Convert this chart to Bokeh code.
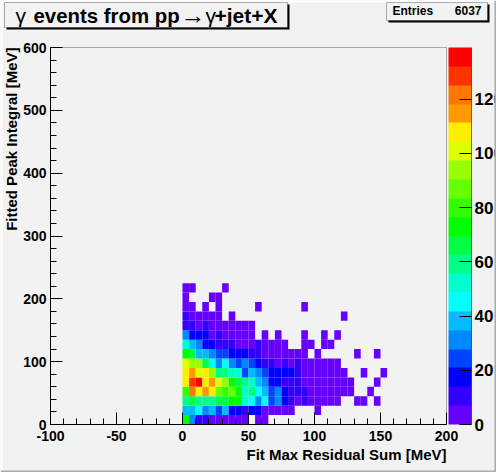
from bokeh.plotting import figure
from bokeh.models import (ColumnDataSource, LinearColorMapper, ColorBar, FixedTicker,
                          SingleIntervalTicker, Label, BoxAnnotation, Range1d, LinearAxis)
from bokeh.embed import file_html
from bokeh.resources import INLINE

palette = ["#6600ff", "#3300ff", "#0000ff", "#0044ff", "#0088ff", "#00bbff", "#00ffff",
           "#00ffcc", "#00ff88", "#00ff44", "#00ff00", "#33ff00", "#66ff00", "#99ff00",
           "#ddff00", "#ffee00", "#ff9900", "#ff7700", "#ff3300", "#ff0000"]

x_bin_width = 5
y_bin_width = 15
z_max = 139

# counts per bin; each list starts at x = 0, one row per y bin (row 0: 0-15 MeV)
row00 = [73, 31, 10, 10, 2, 2, 2, 2, 2, 2, 0, 2, 2]
row01 = [38, 38, 45, 31, 38, 24, 38, 17, 17, 10, 17, 17, 2, 2, 2, 2, 2, 0, 0, 0, 2]
row02 = [59, 66, 59, 59, 59, 66, 66, 73, 73, 52, 45, 31, 45, 24, 31, 17, 10, 2, 10, 2, 2, 2, 2, 2, 0, 0, 2, 2, 0, 2]
row03 = [80, 122, 108, 115, 108, 87, 80, 87, 73, 52, 59, 45, 38, 24, 31, 17, 10, 10, 10, 2, 2, 2, 2, 2, 2, 2, 0, 0, 2]
row04 = [108, 129, 136, 108, 115, 101, 94, 73, 66, 59, 52, 38, 31, 17, 17, 10, 10, 10, 2, 2, 2, 2, 2, 2, 2, 2, 0, 0, 0, 2]
row05 = [108, 115, 101, 108, 94, 59, 59, 52, 52, 24, 38, 31, 24, 17, 17, 17, 17, 10, 2, 2, 2, 2, 2, 2, 2, 0, 0, 2, 0, 0, 2]
row06 = [101, 94, 94, 66, 45, 31, 45, 31, 24, 31, 24, 17, 10, 10, 2, 10, 2, 10, 2, 2, 2, 2, 2, 2]
row07 = [73, 66, 38, 38, 31, 24, 24, 17, 17, 17, 10, 10, 2, 2, 2, 2, 2, 2, 2, 0, 2, 0, 0, 0, 0, 0, 2, 0, 0, 2]
row08 = [52, 38, 31, 17, 17, 10, 10, 10, 2, 2, 2, 10, 2, 2, 2, 2, 0, 0, 2, 2, 0, 2, 2]
row09 = [31, 17, 17, 17, 2, 10, 2, 2, 2, 2, 2, 0, 2, 0, 2, 0, 0, 0, 2, 0, 0, 2, 0, 2]
row10 = [10, 10, 2, 10, 2, 2, 2, 2, 2, 2, 2]
row11 = [10, 2, 2, 2, 2, 2, 0, 2, 0, 0, 0, 0, 0, 0, 0, 0, 0, 0, 0, 0, 0, 0, 0, 0, 2]
row12 = [2, 2, 0, 2, 0, 2, 0, 0, 0, 0, 0, 2, 0, 0, 0, 0, 0, 0, 2]
row13 = [2, 0, 0, 0, 2, 2]
row14 = [2, 2, 0, 0, 0, 0, 2]
rows = [row00, row01, row02, row03, row04, row05, row06, row07, row08, row09, row10, row11, row12, row13, row14]

x_l, x_r, y_b, y_t, z = [], [], [], [], []
for j, r in enumerate(rows):
    for i, c in enumerate(r):
        if c > 0:
            x_l.append(i * x_bin_width)
            x_r.append((i + 1) * x_bin_width)
            y_b.append(j * y_bin_width)
            y_t.append((j + 1) * y_bin_width)
            z.append(c)
src = ColumnDataSource(dict(l=x_l, r=x_r, b=y_b, t=y_t, z=z))

BG = "#f2f2f2"
FONT = "Liberation Sans"


def dx(px):
    return -100 + (px - 50) * 300 / 396


def dy(py):
    return (424 - py) * 600 / 377


# the frame fills the whole canvas so the boxes and titles around the axes are not clipped
p = figure(width=496, height=472, frame_width=496, frame_height=472,
           x_range=Range1d(dx(0), dx(496)), y_range=Range1d(dy(472), dy(0)),
           output_backend="svg", toolbar_location=None, x_axis_type=None, y_axis_type=None,
           min_border=0, background_fill_color=BG, border_fill_color=BG, outline_line_color=None)
p.grid.visible = False

mapper = LinearColorMapper(palette=palette, low=0, high=z_max)
p.quad(left="l", right="r", bottom="b", top="t", source=src,
       fill_color={"field": "z", "transform": mapper}, line_color=None)

xax = LinearAxis(fixed_location=0, bounds=(-100, 200))
yax = LinearAxis(fixed_location=-100, bounds=(0, 600))
for ax, iv in ((xax, 50), (yax, 100)):
    ax.ticker = SingleIntervalTicker(interval=iv, num_minor_ticks=5)
    ax.major_tick_in = 12
    ax.major_tick_out = 0
    ax.minor_tick_in = 6
    ax.minor_tick_out = 0
    ax.major_tick_line_color = "black"
    ax.minor_tick_line_color = "black"
    ax.major_label_text_color = "black"
    ax.major_label_text_font = FONT
    ax.major_label_text_font_style = "bold"
    ax.major_label_text_font_size = "14px"
    ax.major_label_standoff = 4
    ax.axis_line_color = "black"
xax.major_label_standoff = 6
yax.major_label_orientation = "horizontal"
xax.major_label_overrides = {-100: "-100", -50: "-50"}
p.add_layout(xax, "below")
p.add_layout(yax, "left")

cb = ColorBar(color_mapper=mapper, ticker=FixedTicker(ticks=[0, 20, 40, 60, 80, 100, 120]),
              location=(448, 48), width=23, height=377, padding=0, margin=0,
              major_tick_in=12, major_tick_out=0, major_tick_line_color="black",
              minor_tick_line_color=None, bar_line_color=None, label_standoff=3,
              major_label_text_color="black",
              major_label_text_font=FONT, major_label_text_font_style="bold",
              major_label_text_font_size="17px", background_fill_color=None,
              border_line_color=None)
p.add_layout(cb)


def box(left, top, right, bottom, fill, line=None):
    p.add_layout(BoxAnnotation(left=dx(left), right=dx(right), top=dy(top), bottom=dy(bottom),
                               fill_color=fill, fill_alpha=1 if fill else 0, line_color=line, line_width=1,
                               editable=False))


def txt(x, y, s, size, style="bold", align="left", angle=0, font=FONT):
    p.add_layout(Label(x=dx(x), y=dy(y), text=s,
                       text_font=font, text_font_style=style, text_font_size=size,
                       text_align=align, text_baseline="alphabetic", angle=angle,
                       text_color="black"))


# canvas bevel
box(0, 0, 496, 2, "#ffffff")
box(0, 0, 2, 472, "#ffffff")
box(0, 470, 496, 472, "#aaaaaa")
box(494, 0, 496, 472, "#aaaaaa")
# frame of the histogram and right edge of the palette
box(50, 47, 446, 424, None, "black")
box(471, 47, 471, 424, None, "black")
# title box
box(6, 4, 289, 29, "black")
box(4, 2, 287, 27, BG, "black")
txt(15, 15, "γ", "21px", "normal")
txt(33, 15, "events from pp", "20.4px")
txt(180, 15, "→", "25px", "normal", font="Liberation Serif")
txt(205, 15, "γ", "21px", "normal")
txt(214, 15, "+jet+X", "21px")
# stats box
box(388, 4, 489, 22, "black")
box(386, 2, 487, 20, BG, "black")
txt(392, 10, "Entries", "12px")
txt(481, 10, "6037", "12px", align="right")
# axis titles
txt(446, 454, "Fit Max Residual Sum [MeV]", "15px", align="right")
txt(11, 47, "Fitted Peak Integral [MeV]", "15px", align="right", angle=1.5708)

open("out.html", "w").write(file_html(p, INLINE))
